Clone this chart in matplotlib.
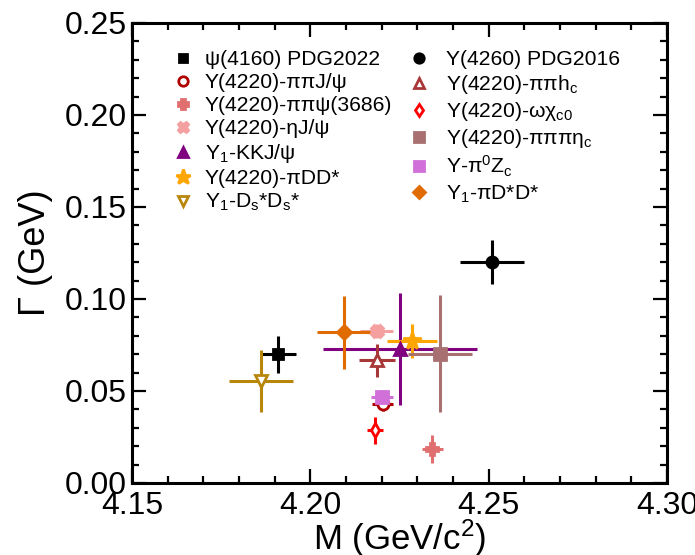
import matplotlib
matplotlib.use('agg')
import matplotlib.pyplot as plt
from matplotlib.lines import Line2D
from matplotlib.ticker import MultipleLocator

labels = [
    'ψ(4160) PDG2022',
    'Y(4220)-ππJ/ψ',
    'Y(4220)-ππψ(3686)',
    'Y(4220)-ηJ/ψ',
    'Y$_1$-KKJ/ψ',
    'Y(4220)-πDD*',
    'Y$_1$-D$_s$*D$_s$*',
    'Y(4260) PDG2016',
    'Y(4220)-ππh$_c$',
    'Y(4220)-ωχ$_{c0}$',
    'Y(4220)-πππη$_c$',
    'Y-π$^0$Z$_c$',
    'Y$_1$-πD*D*',
]
mass = [4.191, 4.2203, 4.2342, 4.2186, 4.2251, 4.2285, 4.1862,
        4.251, 4.2187, 4.2181, 4.2364, 4.2201, 4.2094]
width = [0.070, 0.0430, 0.0183, 0.0826, 0.0729, 0.0772, 0.0554,
         0.120, 0.0668, 0.0286, 0.0703, 0.0466, 0.0819]
mass_err = [0.005, 0.003, 0.003, 0.0046, 0.0215, 0.0071, 0.0089,
            0.009, 0.005, 0.0022, 0.0089, 0.003, 0.0074]
width_err = [0.010, 0.004, 0.0076, 0.004, 0.0304, 0.0092, 0.0167,
             0.012, 0.009, 0.0072, 0.0319, 0.004, 0.020]

# marker, colour, filled?
styles = [
    ('s', 'black', True),
    ('o', '#b00000', False),
    ('P', '#e07070', True),
    ('X', '#f4a0a0', True),
    ('^', '#800080', True),
    ('*', '#ffa500', True),
    ('v', '#b8860b', False),
    ('o', 'black', True),
    ('^', '#a83838', False),
    ('d', '#ff0000', False),
    ('s', '#a87070', True),
    ('s', '#d070d8', True),
    ('D', '#e06c00', True),
]
sizes = [7, 8, 9, 9, 9, 13, 9, 8, 9, 7, 9, 8, 7]

plt.rcParams['font.family'] = ['Liberation Sans', 'DejaVu Sans']
plt.rcParams['mathtext.fontset'] = 'custom'
plt.rcParams['mathtext.rm'] = 'Liberation Sans'
plt.rcParams['mathtext.it'] = 'Liberation Sans'
plt.rcParams['mathtext.default'] = 'regular'

fig = plt.figure(figsize=(6.95, 5.55), dpi=100)
ax = fig.add_axes([132 / 695, 1 - 483 / 555, 535 / 695, 460 / 555])

handles = []
for i in range(len(labels)):
    mk, col, filled = styles[i]
    mfc = col if filled else 'white'
    ax.errorbar(mass[i], width[i], xerr=mass_err[i], yerr=width_err[i],
                fmt=mk, color=col, ms=sizes[i], mfc=mfc, mec=col, mew=2,
                elinewidth=2.2, capsize=0, zorder=3)
    handles.append(Line2D([], [], marker=mk, color=col, linestyle='none',
                          ms=sizes[i] * 0.85, mfc=mfc, mec=col, mew=2))

ax.set_xlim(4.15, 4.30)
ax.set_ylim(0.0, 0.25)
ax.xaxis.set_major_locator(MultipleLocator(0.05))
ax.xaxis.set_minor_locator(MultipleLocator(0.01))
ax.yaxis.set_major_locator(MultipleLocator(0.05))
ax.yaxis.set_minor_locator(MultipleLocator(0.01))
ax.xaxis.set_major_formatter(plt.FormatStrFormatter('%.2f'))
ax.yaxis.set_major_formatter(plt.FormatStrFormatter('%.2f'))
ax.tick_params(which='both', direction='in', top=True, right=True,
               labelsize=23, width=1.6)
ax.tick_params(axis='x', which='major', pad=6)
ax.tick_params(axis='y', which='major', pad=4)
ax.tick_params(which='major', length=10)
ax.tick_params(which='minor', length=5)
for sp in ax.spines.values():
    sp.set_linewidth(2.2)

ax.set_xlabel('M (GeV/c$^2$)', fontsize=25, va='baseline')
ax.xaxis.set_label_coords(0.5, (483 - 550) / 460)
ax.set_ylabel('Γ (GeV)', fontsize=26, labelpad=8)

leg_kw = dict(frameon=False, fontsize=15.2, handlelength=1.0,
              handletextpad=0.55, borderpad=0, borderaxespad=0,
              labelspacing=0.19, bbox_transform=fig.transFigure,
              loc='upper left')
leg1 = ax.legend(handles[:7], labels[:7],
                 bbox_to_anchor=(172 / 695, 1 - 50 / 555), **leg_kw)
ax.add_artist(leg1)
ax.legend(handles[7:], labels[7:],
          bbox_to_anchor=(408 / 695, 1 - 50 / 555),
          **dict(leg_kw, handletextpad=0.8))

fig.savefig('out.png', dpi=100)
